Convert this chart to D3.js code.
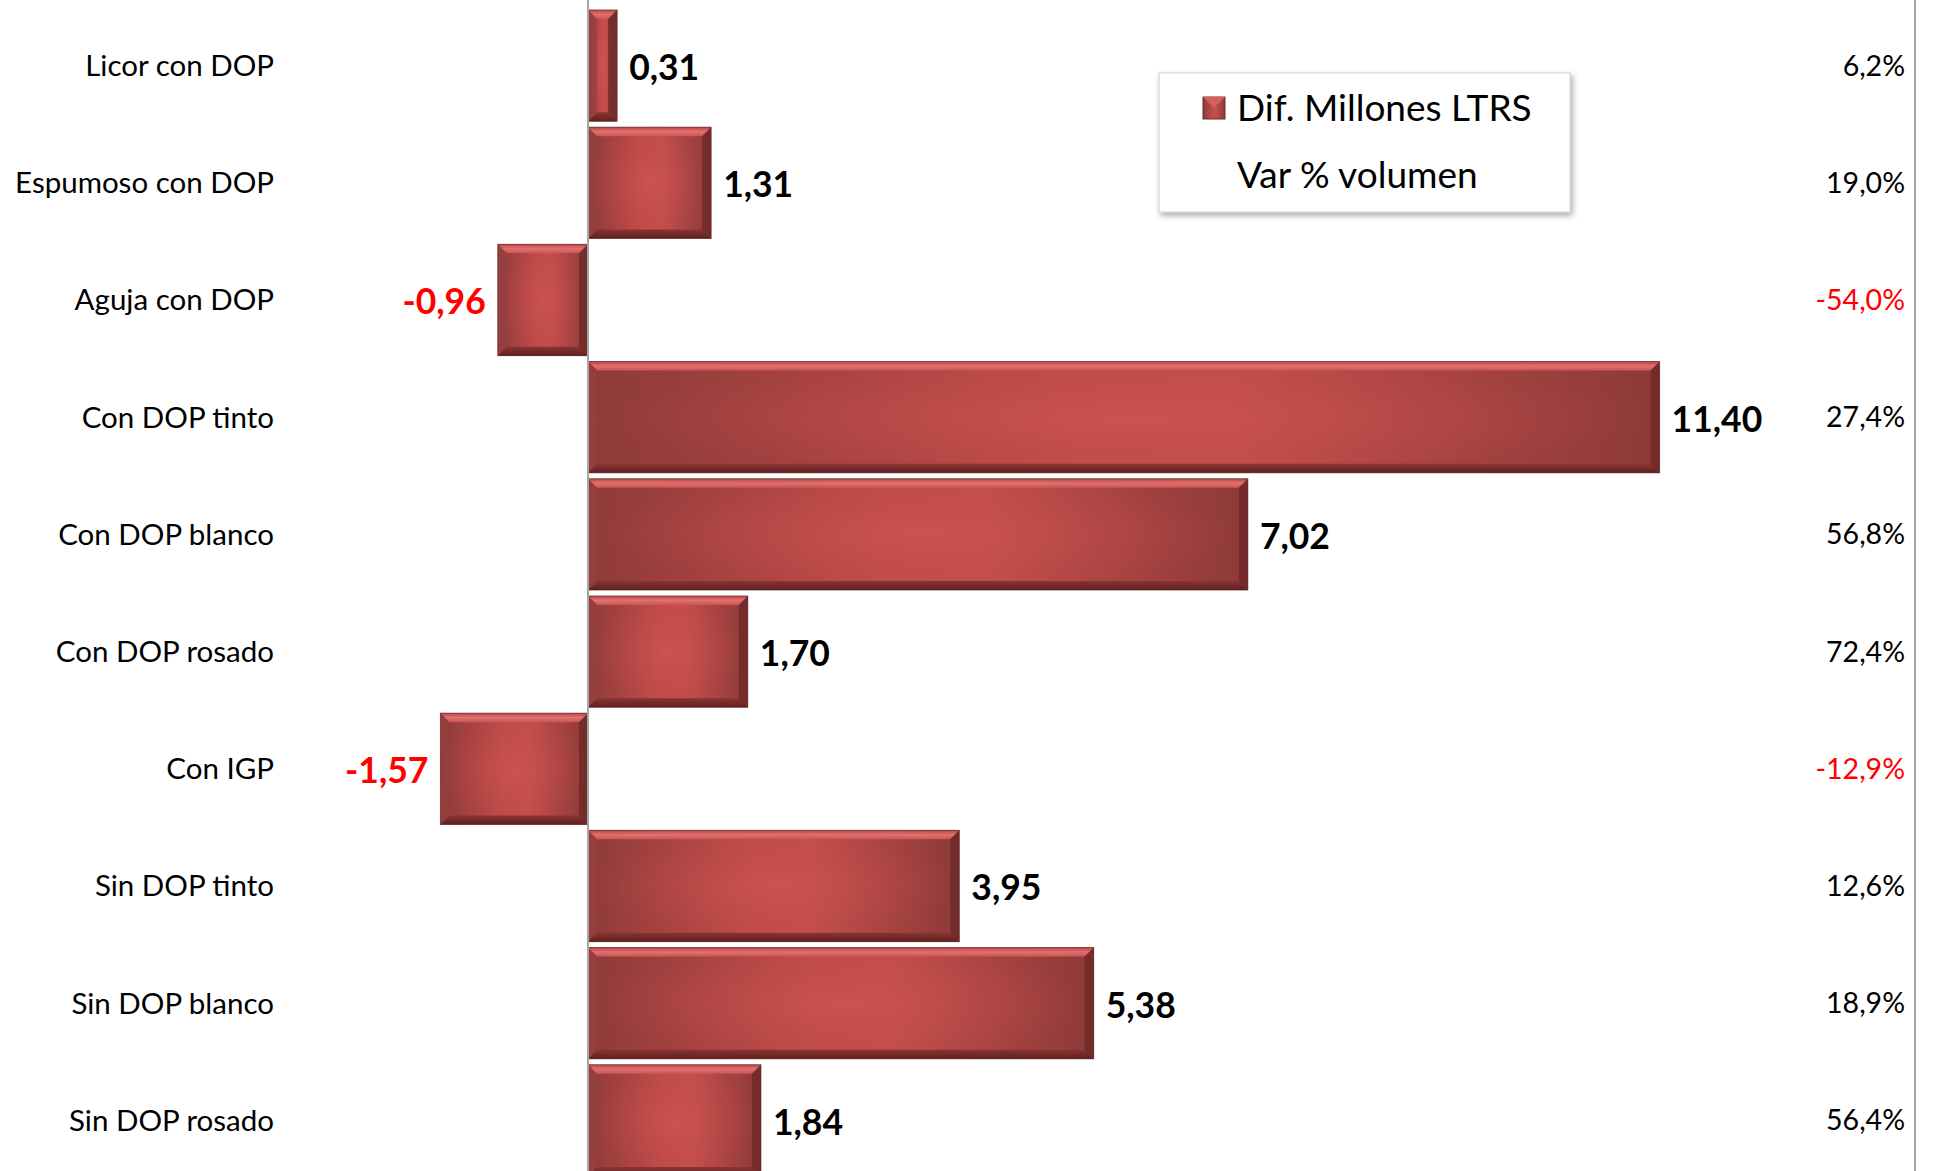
<!DOCTYPE html>
<html><head><meta charset="utf-8">
<script src="https://cdn.jsdelivr.net/npm/d3@7"></script>
<style>html,body{margin:0;padding:0;background:#fff;overflow:hidden}svg{display:block}</style>
</head><body>
<svg id="c" width="1936" height="1171"></svg>
<script>
const categories = ["Licor con DOP","Espumoso con DOP","Aguja con DOP","Con DOP tinto","Con DOP blanco","Con DOP rosado","Con IGP","Sin DOP tinto","Sin DOP blanco","Sin DOP rosado"];
const difMillones = [0.31,1.31,-0.96,11.40,7.02,1.70,-1.57,3.95,5.38,1.84];
const varPct = [6.2,19.0,-54.0,27.4,56.8,72.4,-12.9,12.6,18.9,56.4];
const legendLabels = ["Dif. Millones LTRS","Var % volumen"];

const svg = d3.select("#c");
const W = 1936, H = 1171;
const font = "Lato, 'Open Sans', sans-serif";
const fmt = (v,d) => v.toFixed(d).replace(".", ",");

const x = d3.scaleLinear().domain([0, 1]).range([588, 682]);
const y = d3.scaleBand().domain(categories).range([7, 7 + 117.2*10]).paddingInner(0.05).paddingOuter(0.025);

const defs = svg.append("defs");
const lg = defs.append("linearGradient").attr("id","gh").attr("x1","0").attr("x2","1").attr("y1","0").attr("y2","0");
lg.append("stop").attr("offset","0").attr("stop-color","#8e3b39");
lg.append("stop").attr("offset","0.45").attr("stop-color","#c24c4a");
lg.append("stop").attr("offset","0.6").attr("stop-color","#c44e4c");
lg.append("stop").attr("offset","1").attr("stop-color","#8c3a38");
const rg = defs.append("radialGradient").attr("id","gr").attr("cx","0.5").attr("cy","0.5").attr("r","0.5");
rg.append("stop").attr("offset","0").attr("stop-color","#d05654").attr("stop-opacity",0.6);
rg.append("stop").attr("offset","1").attr("stop-color","#c24c4a").attr("stop-opacity",0);
const tg = defs.append("linearGradient").attr("id","gt").attr("x1","0").attr("x2","0").attr("y1","0").attr("y2","1");
tg.append("stop").attr("offset","0").attr("stop-color","#b84846");
tg.append("stop").attr("offset","0.5").attr("stop-color","#e2706e");
tg.append("stop").attr("offset","1").attr("stop-color","#c85654");
const bg = defs.append("linearGradient").attr("id","gb").attr("x1","0").attr("x2","0").attr("y1","0").attr("y2","1");
bg.append("stop").attr("offset","0").attr("stop-color","#8a3432");
bg.append("stop").attr("offset","1").attr("stop-color","#5e2120");
const sh = defs.append("filter").attr("id","sh").attr("x","-10%").attr("y","-10%").attr("width","120%").attr("height","130%");
sh.append("feDropShadow").attr("dx",2).attr("dy",3).attr("stdDeviation",3).attr("flood-color","#000").attr("flood-opacity",0.35);

const data = categories.map((c,i)=>({c, v:difMillones[i], p:varPct[i]}));

const bars = svg.append("g").selectAll("g").data(data).join("g");
bars.each(function(d){
  const g = d3.select(this);
  const x0 = Math.min(x(0), x(d.v)), x1 = Math.max(x(0), x(d.v));
  const y0 = y(d.c), h = y.bandwidth(), w = x1 - x0;
  const b = Math.min(9, w/3);
  g.append("rect").attr("x",x0).attr("y",y0).attr("width",w).attr("height",h).attr("fill","url(#gh)");
  g.append("rect").attr("x",x0).attr("y",y0).attr("width",w).attr("height",h).attr("fill","url(#gr)");
  g.append("path").attr("d",`M${x0},${y0}L${x1},${y0}L${x1-b},${y0+b}L${x0+b},${y0+b}Z`).attr("fill","url(#gt)");
  g.append("path").attr("d",`M${x0},${y0+h}L${x1},${y0+h}L${x1-b},${y0+h-b}L${x0+b},${y0+h-b}Z`).attr("fill","url(#gb)");
  g.append("path").attr("d",`M${x0},${y0}L${x0+b},${y0+b}L${x0+b},${y0+h-b}L${x0},${y0+h}Z`).attr("fill","#96403e").attr("opacity",0.7);
  g.append("path").attr("d",`M${x1},${y0}L${x1-b},${y0+b}L${x1-b},${y0+h-b}L${x1},${y0+h}Z`).attr("fill","#6e2a29").attr("opacity",0.85);
  g.append("rect").attr("x",x0).attr("y",y0).attr("width",w).attr("height",h).attr("fill","none").attr("stroke","#5a2221").attr("stroke-width",1).attr("opacity",0.6);
});

svg.append("line").attr("x1",x(0)).attr("x2",x(0)).attr("y1",0).attr("y2",H).attr("stroke","#a6a6a6").attr("stroke-width",2);
svg.append("line").attr("x1",1915).attr("x2",1915).attr("y1",0).attr("y2",H).attr("stroke","#a6a6a6").attr("stroke-width",2);

svg.append("g").selectAll("text").data(data).join("text")
  .attr("x",274).attr("y",d=>y(d.c)+y.bandwidth()/2).attr("dy","0.35em")
  .attr("text-anchor","end").attr("font-family",font).attr("font-size",29.5).attr("fill","#000")
  .text(d=>d.c);

svg.append("g").selectAll("text").data(data).join("text")
  .attr("x",d=>d.v>=0 ? x(d.v)+12 : x(d.v)-12)
  .attr("y",d=>y(d.c)+y.bandwidth()/2+2).attr("dy","0.35em")
  .attr("text-anchor",d=>d.v>=0?"start":"end")
  .attr("font-family",font).attr("font-weight","bold").attr("font-size",35.5)
  .attr("fill",d=>d.v>=0?"#000":"#ff0000")
  .text(d=>fmt(d.v,2));

svg.append("g").selectAll("text").data(data).join("text")
  .attr("x",1905).attr("y",d=>y(d.c)+y.bandwidth()/2).attr("dy","0.35em")
  .attr("text-anchor","end").attr("font-family",font).attr("font-size",28.5)
  .attr("fill",d=>d.p>=0?"#000":"#ff0000")
  .text(d=>fmt(d.p,1)+"%");

const lgG = svg.append("g");
lgG.append("rect").attr("x",1159).attr("y",73).attr("width",411).attr("height",139).attr("fill","#fff").attr("stroke","#d0d0d0").attr("filter","url(#sh)");
lgG.append("rect").attr("x",1203).attr("y",97).attr("width",22).attr("height",22).attr("fill","url(#gh)").attr("stroke","#6e2a29").attr("stroke-width",1);
lgG.append("path").attr("d","M1203,97L1225,97L1214,108Z").attr("fill","#d65e5c");
lgG.selectAll("text.l").data(legendLabels).join("text").attr("class","l")
  .attr("x",1237).attr("y",(d,i)=>108+i*67).attr("dy","0.35em")
  .attr("font-family",font).attr("font-size",37).attr("fill","#000").text(d=>d);
</script>
</body></html>
